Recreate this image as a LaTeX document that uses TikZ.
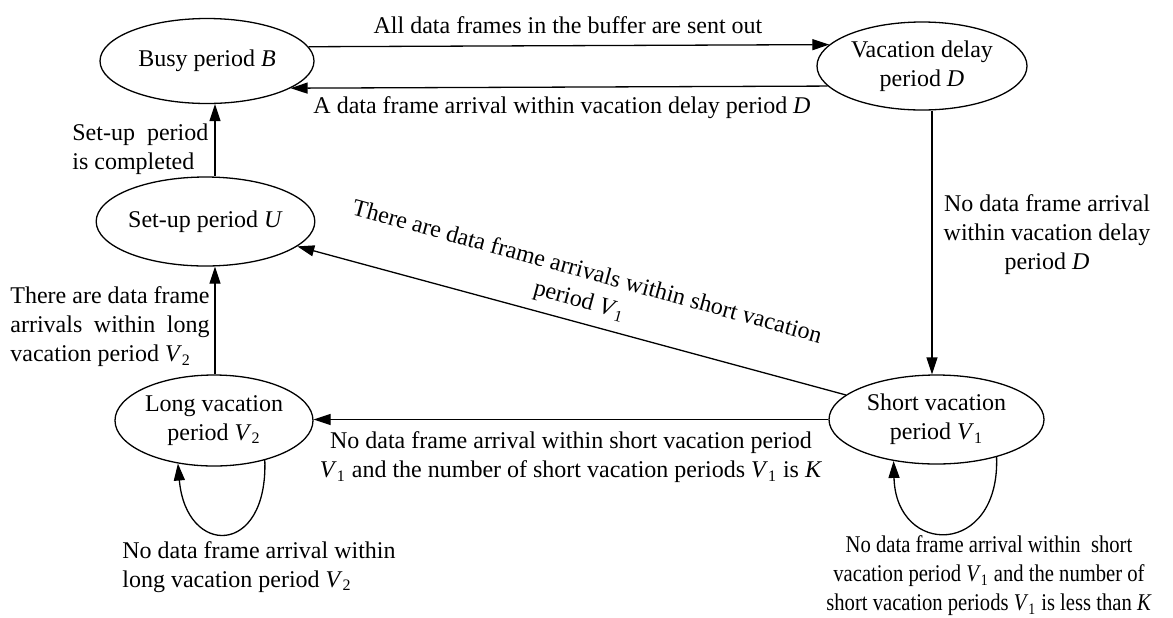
\documentclass[tikz,border=0pt]{standalone}
\usepackage{fontspec}
\setmainfont{Liberation Serif}
\usetikzlibrary{shapes.geometric,arrows.meta}
\begin{document}
\begin{tikzpicture}[x=0.5pt,y=-0.5pt,
  state/.style={draw, ellipse, line width=0.65pt, inner sep=0pt, align=center,
                font=\fontsize{12}{14.5}\selectfont},
  lbl/.style={font=\fontsize{12}{14.5}\selectfont, inner sep=0pt},
  conn/.style={line width=0.65pt, -{Triangle[length=8.5pt,width=5.5pt]}}]
\useasboundingbox (0,0) rectangle (1173,617);

% states
\node[state, minimum width=107pt, minimum height=42.5pt] (B) at (207,61) {Busy period \textit{B}};
\node[state, minimum width=105pt, minimum height=44pt] (D) at (922,66) {Vacation delay\\period \textit{D}};
\node[state, minimum width=104.5pt, minimum height=44.5pt] (U) at (205.5,221.5) {Set-up period \textit{U}};
\node[state, minimum width=99pt, minimum height=45.5pt] (V2) at (214,420.5) {Long vacation\\period \textit{V}\textsubscript{2}};
\node[state, minimum width=107.5pt, minimum height=44.5pt] (V1) at (936.5,419.5) {Short vacation\\period \textit{V}\textsubscript{1}};

\coordinate (ub) at (215,0);
\coordinate (dv) at (932,0);

% connectors
\draw[conn] (B.8.52) -- (D.167.93);
\draw[conn] (D.192.82) -- (B.342.92);
\draw[conn] (U.north -| ub) -- (B.south -| ub);
\draw[conn] (V2.north -| ub) -- (U.south -| ub);
\draw[conn] (D.south -| dv) -- (V1.north -| dv);
\draw[conn] (V1) -- (U);
\draw[conn] (V1.west) -- (V1.west -| V2.east);
\draw[conn] (V2.-38.9) .. controls (268,557) and (186,557) .. (V2.-130.3);
\draw[conn] (V1.-32) .. controls (1000,557) and (896,557) .. (V1.-136.3);

% labels
\node[lbl] (l1) at (568,25) {All data frames in the buffer are sent out};
\node[lbl] (l2) at (562,108) {A data frame arrival within vacation delay period \textit{D}};
\node[lbl, anchor=west, align=left] (l3) at (72,149) {Set-up\ \ period\\is completed};
\node[lbl, anchor=west, align=left] (l4) at (10,327) {There are data frame\\\makebox[99.6pt][s]{arrivals within long}\\vacation period \textit{V}\textsubscript{2}};
\node[lbl, align=center] (l5) at (1047,235) {No data frame arrival\\within vacation delay\\period \textit{D}};
\node[lbl, align=center, rotate=-15.4] (l6) at (583,287) {There are data frame arrivals within short vacation\\period \textit{V}\textsubscript{1}};
\node[lbl, align=center] (l7) at (571,457) {No data frame arrival within short vacation period\\\textit{V}\textsubscript{1} and the number of short vacation periods \textit{V}\textsubscript{1} is \textit{K}};
\node[lbl, anchor=west, align=left] (l8) at (122,567) {No data frame arrival within\\long vacation period \textit{V}\textsubscript{2}};
\node[lbl] (l9) at (989,576) {\scalebox{0.86}[1]{\begin{tabular}{@{}c@{}}No data frame arrival within\ \ short\\vacation period \textit{V}\textsubscript{1} and the number of\\short vacation periods \textit{V}\textsubscript{1} is less than \textit{K}\end{tabular}}};
\end{tikzpicture}
\end{document}
